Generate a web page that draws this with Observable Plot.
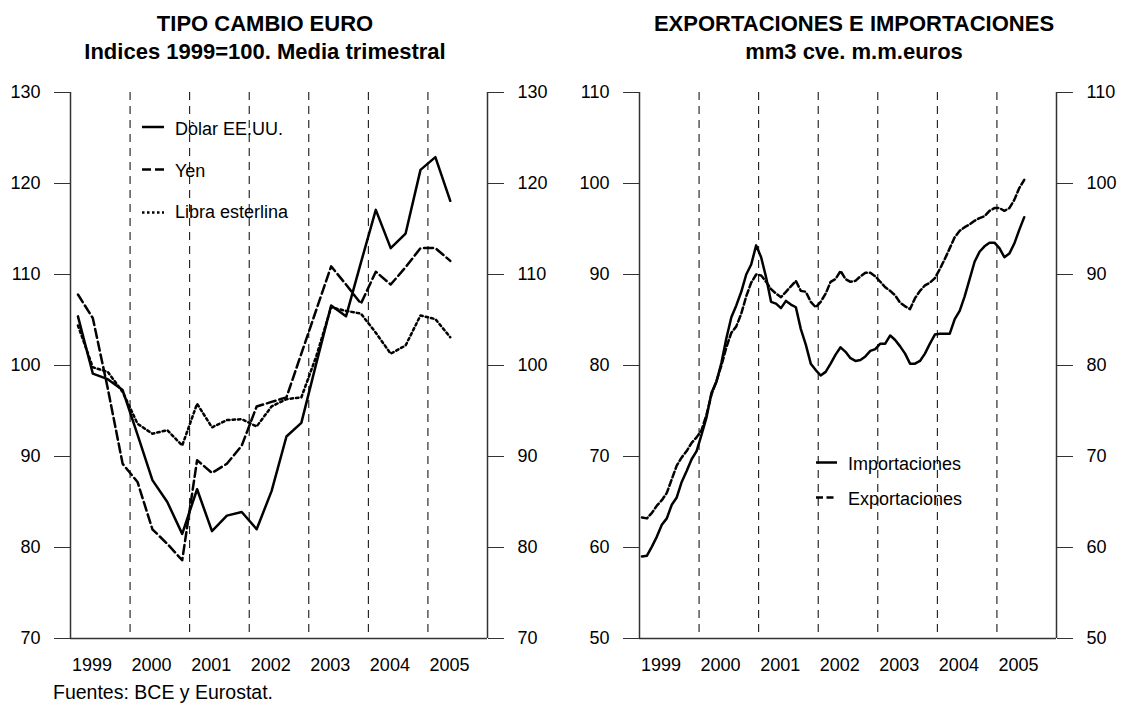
<!DOCTYPE html>
<html><head><meta charset="utf-8">
<script src="https://cdn.jsdelivr.net/npm/d3@7"></script>
<script src="https://cdn.jsdelivr.net/npm/@observablehq/plot@0.6"></script>
<style>
body{margin:0;background:#fff;font-family:"Liberation Sans",Arial,sans-serif;}
#wrap{position:relative;width:1125px;height:704px;overflow:hidden;background:#fff;}
.title{position:absolute;top:10px;font-weight:bold;font-size:22px;line-height:28px;text-align:center;color:#000;}
.plotbox{position:absolute;top:80px;}
#caption{position:absolute;left:53px;top:680px;font-size:19.5px;line-height:24px;color:#000;}
#legend{position:absolute;left:0;top:0;pointer-events:none;}
</style></head><body>
<div id="wrap">
  <div class="title" style="left:0;width:530px;">TIPO CAMBIO EURO<br>Indices 1999=100. Media trimestral</div>
  <div class="title" style="left:590px;width:528px;">EXPORTACIONES E IMPORTACIONES<br>mm3 cve. m.m.euros</div>
  <div class="plotbox" id="left" style="left:0;"></div>
  <div class="plotbox" id="right" style="left:562px;"></div>
  <div id="caption">Fuentes: BCE y Eurostat.</div>
</div>
<script>
// ---------- data ----------
const yearLabels = [1999, 2000, 2001, 2002, 2003, 2004, 2005];
const yearLines = [2000, 2001, 2002, 2003, 2004, 2005];
const leftTicks = [70, 80, 90, 100, 110, 120, 130];
const rightTicks = [50, 60, 70, 80, 90, 100, 110];

// quarterly indices 1999Q1 .. 2005Q2
const dolar = [105.4, 99.1, 98.5, 97.3, 92.4, 87.4, 85.0, 81.5, 86.4, 81.8, 83.5, 83.9, 82.0, 86.2, 92.2, 93.7, 100.2, 106.6, 105.4, 111.3, 117.1, 112.9, 114.5, 121.5, 122.9, 118.1];
const yen = [107.8, 105.2, 97.5, 89.2, 87.2, 82.0, 80.4, 78.6, 89.6, 88.2, 89.2, 91.2, 95.5, 96.0, 96.5, 101.3, 106.1, 110.9, 108.9, 106.8, 110.3, 108.9, 110.8, 112.9, 112.9, 111.5];
const libra = [104.4, 99.8, 99.3, 97.1, 93.6, 92.5, 92.9, 91.2, 95.8, 93.2, 94.0, 94.1, 93.3, 95.5, 96.3, 96.5, 101.0, 106.4, 106.0, 105.7, 103.6, 101.3, 102.2, 105.5, 105.1, 103.1];

// monthly mm3, Jan 1999 .. Jun 2005
const importaciones = [59.0, 59.1, 60.1, 61.2, 62.5, 63.2, 64.7, 65.5, 67.2, 68.4, 69.7, 70.6,
  72.4, 74.3, 77.0, 78.2, 80.3, 83.0, 85.3, 86.6, 88.1, 90.0, 91.1, 93.2,
  91.9, 89.7, 87.0, 86.8, 86.3, 87.1, 86.7, 86.4, 84.0, 82.3, 80.2, 79.5,
  78.9, 79.3, 80.2, 81.2, 82.0, 81.5, 80.8, 80.5, 80.6, 81.0, 81.6, 81.8,
  82.4, 82.4, 83.3, 82.8, 82.1, 81.3, 80.2, 80.2, 80.5, 81.3, 82.4, 83.4,
  83.5, 83.5, 83.5, 85.1, 86.0, 87.6, 89.5, 91.4, 92.5, 93.1, 93.5, 93.5,
  92.9, 91.9, 92.3, 93.4, 94.9, 96.3];
const exportaciones = [63.3, 63.2, 63.8, 64.6, 65.2, 66.0, 67.5, 69.0, 69.9, 70.6, 71.5, 72.1,
  72.9, 74.6, 76.8, 78.3, 80.0, 82.0, 83.6, 84.3, 85.7, 87.6, 89.1, 90.0,
  89.9, 89.2, 88.4, 87.9, 87.5, 88.1, 88.7, 89.3, 88.2, 88.1, 87.0, 86.4,
  87.0, 87.9, 89.2, 89.5, 90.4, 89.5, 89.2, 89.3, 89.8, 90.2, 90.2, 89.8,
  89.2, 88.6, 88.2, 87.7, 86.9, 86.5, 86.2, 87.4, 88.2, 88.8, 89.1, 89.6,
  90.6, 91.7, 92.9, 94.1, 94.8, 95.2, 95.5, 95.9, 96.2, 96.4, 97.0, 97.3,
  97.3, 97.0, 97.3, 98.2, 99.5, 100.4];

// ---------- tables ----------
const qTime = i => 1999 + (i + 0.5) / 4;
const mTime = i => 1999 + (i + 0.5) / 12;
const rowsQ = (arr) => arr.map((v, i) => ({t: qTime(i), v}));
const rowsM = (arr) => arr.map((v, i) => ({t: mTime(i), v}));

const FONT = "'Liberation Sans', Arial, sans-serif";
const FRAME = "#333";

function axes(ticks) {
  return [
    Plot.axisY({anchor: "left", label: null, ticks, tickSize: 16, tickPadding: 14, fontSize: 18, stroke: FRAME, color: "#000", tickFormat: d => String(d)}),
    Plot.axisY({anchor: "right", label: null, ticks, tickSize: 16, tickPadding: 14, fontSize: 18, stroke: FRAME, color: "#000", tickFormat: d => String(d)}),
    Plot.axisX({label: null, ticks: yearLabels, tickSize: 0, tickPadding: 20, textAnchor: "start", dx: 1.5, fontSize: 18, color: "#000", tickFormat: d => String(d)}),
    Plot.ruleX(yearLines, {stroke: "#000", strokeWidth: 1, strokeDasharray: "8,6"}),
    Plot.ruleX([1999, 2006], {stroke: FRAME, strokeWidth: 1.5}),
    Plot.ruleY([ticks[0]], {stroke: FRAME, strokeWidth: 1.5})
  ];
}

const common = {
  height: 600,
  marginTop: 12,
  marginBottom: 42,
  x: {domain: [1999, 2006], axis: null, label: null},
  style: {fontFamily: FONT, background: "transparent", color: "#000", overflow: "visible"}
};

const left = Plot.plot({
  ...common,
  width: 562,
  marginLeft: 70,
  marginRight: 75,
  y: {domain: [70, 130], axis: null, label: null},
  marks: [
    ...axes(leftTicks),
    Plot.line(rowsQ(libra), {x: "t", y: "v", stroke: "#000", strokeWidth: 2.5, strokeDasharray: "2.5,3"}),
    Plot.line(rowsQ(yen), {x: "t", y: "v", stroke: "#000", strokeWidth: 2.5, strokeDasharray: "9,4"}),
    Plot.line(rowsQ(dolar), {x: "t", y: "v", stroke: "#000", strokeWidth: 2.5})
  ]
});
document.getElementById("left").appendChild(left);

const right = Plot.plot({
  ...common,
  width: 563,
  marginLeft: 77,
  marginRight: 69,
  y: {domain: [50, 110], axis: null, label: null},
  marks: [
    ...axes(rightTicks),
    Plot.line(rowsM(exportaciones), {x: "t", y: "v", stroke: "#000", strokeWidth: 2.5, strokeDasharray: "6,3"}),
    Plot.line(rowsM(importaciones), {x: "t", y: "v", stroke: "#000", strokeWidth: 2.5})
  ]
});
document.getElementById("right").appendChild(right);

// ---------- legends ----------
const legendItems = [
  {x1: 142, x2: 164, ly: 127, tx: 175, ty: 135, label: "Dòlar EE.UU.", dash: null},
  {x1: 142, x2: 164, ly: 169.5, tx: 175, ty: 176.5, label: "Yen", dash: "9,4"},
  {x1: 142, x2: 164, ly: 212.5, tx: 175, ty: 217.5, label: "Libra esterlina", dash: "2.5,2.5"},
  {x1: 816, x2: 837, ly: 462.5, tx: 848, ty: 469.5, label: "Importaciones", dash: null},
  {x1: 816, x2: 837, ly: 497.5, tx: 848, ty: 505, label: "Exportaciones", dash: "7,3.5"}
];
const NS = "http://www.w3.org/2000/svg";
const lg = document.createElementNS(NS, "svg");
lg.setAttribute("id", "legend");
lg.setAttribute("width", 1125);
lg.setAttribute("height", 704);
for (const it of legendItems) {
  const l = document.createElementNS(NS, "line");
  l.setAttribute("x1", it.x1); l.setAttribute("x2", it.x2);
  l.setAttribute("y1", it.ly); l.setAttribute("y2", it.ly);
  l.setAttribute("stroke", "#000"); l.setAttribute("stroke-width", 2.5);
  if (it.dash) l.setAttribute("stroke-dasharray", it.dash);
  lg.appendChild(l);
  const t = document.createElementNS(NS, "text");
  t.setAttribute("x", it.tx); t.setAttribute("y", it.ty);
  t.setAttribute("font-family", FONT); t.setAttribute("font-size", 18);
  t.setAttribute("fill", "#000");
  t.textContent = it.label;
  lg.appendChild(t);
}
document.getElementById("wrap").appendChild(lg);
</script>
</body></html>
